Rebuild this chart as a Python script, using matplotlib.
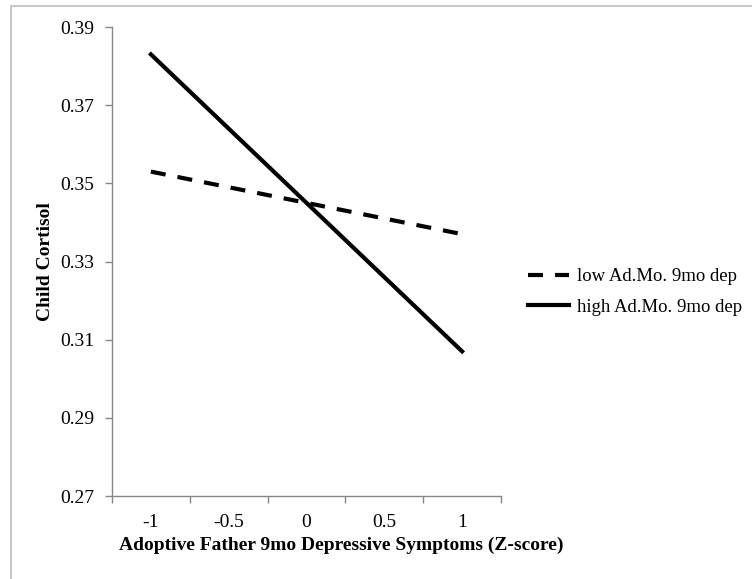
import matplotlib
matplotlib.use("Agg")
import matplotlib.pyplot as plt
from matplotlib.patches import Rectangle

categories = ["-1", "-0.5", "0", "0.5", "1"]
low_dep = [0.353, 0.349, 0.345, 0.341, 0.337]
high_dep = [0.383, 0.364, 0.345, 0.326, 0.307]
yticks = [0.27, 0.29, 0.31, 0.33, 0.35, 0.37, 0.39]

plt.rcParams['font.family'] = ['Liberation Serif', 'DejaVu Serif']

fig = plt.figure(figsize=(7.52, 5.79), dpi=100)
fig.patches.append(Rectangle((11/752, -0.1), 1.2, 1 - 6.5/579 + 0.1,
                             transform=fig.transFigure, fill=False,
                             edgecolor='#c8c8c8', linewidth=1.5))

ax = fig.add_axes([112/752, 1 - 496/579, (501 - 112)/752, (496 - 27)/579])
x = list(range(len(categories)))
ax.plot(x, low_dep, color='black', linewidth=3, linestyle=(0, (3.6, 2.9)),
        label='low Ad.Mo. 9mo dep')
ax.plot(x, high_dep, color='black', linewidth=3, linestyle='-',
        label='high Ad.Mo. 9mo dep')

ax.set_xlim(-0.5, len(categories) - 0.5)
ax.set_ylim(0.27, 0.39)
ax.set_yticks(yticks)
ax.set_yticklabels([f"{v:.2f}" for v in yticks])
ax.set_xticks(x)
ax.set_xticklabels(categories)
ax.set_xticks([i - 0.5 for i in range(len(categories) + 1)], minor=True)
ax.tick_params(axis='x', which='major', length=0, pad=13, labelsize=14)
ax.tick_params(axis='x', which='minor', length=5, color='#888888', width=1)
ax.tick_params(axis='y', length=5, color='#888888', width=1, pad=8, labelsize=14)

for s in ['top', 'right']:
    ax.spines[s].set_visible(False)
for s in ['left', 'bottom']:
    ax.spines[s].set_color('#888888')
    ax.spines[s].set_linewidth(1)

ax.set_xlabel('Adoptive Father 9mo Depressive Symptoms (Z-score)',
              fontsize=14, fontweight='bold')
ax.xaxis.set_label_coords((341 - 112) / 389, (496 - 537) / 469)
ax.set_ylabel('Child Cortisol', fontsize=14, fontweight='bold', labelpad=4)

ax.legend(loc='center left', bbox_to_anchor=((528 - 112) / 389, (496 - 292) / 469),
          frameon=False, borderpad=0, borderaxespad=0,
          fontsize=13.5, handlelength=2.2, handletextpad=0.4, labelspacing=0.7)

fig.savefig('out.png', dpi=100)
